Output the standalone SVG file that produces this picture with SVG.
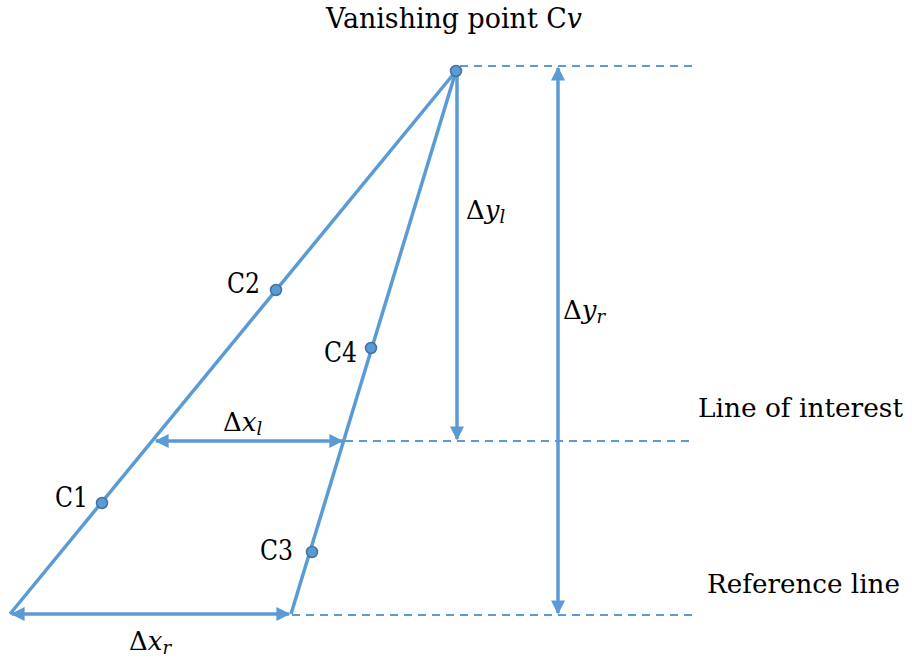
<svg xmlns="http://www.w3.org/2000/svg" width="912" height="662" viewBox="0 0 912 662">
<style>
.ln{stroke:#5B9BD5;stroke-width:3.5;fill:none}
.ds{stroke:#5B9BD5;stroke-width:2;stroke-dasharray:8 6;fill:none}
.dot{fill:#5B9BD5;stroke:#41719C;stroke-width:1.5}
.t{font-family:"DejaVu Serif","Liberation Serif",serif;font-size:27px;fill:#000}
.m{font-family:"DejaVu Serif","Liberation Serif",serif;font-size:26px;fill:#000}
.s{font-size:18px;font-style:italic}
</style>
<defs>
<marker id="ah" viewBox="0 0 10 10" refX="9" refY="5" markerWidth="15" markerHeight="14" orient="auto-start-reverse" markerUnits="userSpaceOnUse">
<path d="M0,0 L10,5 L0,10 z" fill="#5B9BD5"/>
</marker>
</defs>
<rect width="912" height="662" fill="#fff"/>
<g id="connectors">
<line class="ds" x1="460" y1="66" x2="692" y2="66"/>
<line class="ds" x1="345" y1="441" x2="692" y2="441"/>
<line class="ds" x1="292" y1="615" x2="692" y2="615"/>
<line class="ln" x1="456" y1="71" x2="10" y2="614"/>
<line class="ln" x1="456" y1="71" x2="291" y2="614"/>
<line class="ln" x1="457" y1="73" x2="457" y2="439" marker-end="url(#ah)"/>
<line class="ln" x1="558" y1="68" x2="558" y2="613" marker-start="url(#ah)" marker-end="url(#ah)"/>
<line class="ln" x1="156" y1="441" x2="342" y2="441" marker-start="url(#ah)" marker-end="url(#ah)"/>
<line class="ln" x1="12" y1="614" x2="289" y2="614" marker-start="url(#ah)" marker-end="url(#ah)"/>
</g>
<g id="Cv"><circle class="dot" cx="456" cy="71" r="5.5"/><text class="t" x="326" y="28" textLength="256" lengthAdjust="spacingAndGlyphs">Vanishing point C<tspan font-style="italic">v</tspan></text></g>
<g id="C2"><circle class="dot" cx="276" cy="290" r="5.5"/><text class="t" x="227" y="293" textLength="33" lengthAdjust="spacingAndGlyphs">C2</text></g>
<g id="C4"><circle class="dot" cx="371" cy="348" r="5.5"/><text class="t" x="324" y="362" textLength="33" lengthAdjust="spacingAndGlyphs">C4</text></g>
<g id="C1"><circle class="dot" cx="102" cy="503" r="5.5"/><text class="t" x="55" y="507" textLength="33" lengthAdjust="spacingAndGlyphs">C1</text></g>
<g id="C3"><circle class="dot" cx="312" cy="552" r="5.5"/><text class="t" x="260" y="560" textLength="33" lengthAdjust="spacingAndGlyphs">C3</text></g>
<g id="labels">
<text class="m" x="698" y="417" textLength="205" lengthAdjust="spacingAndGlyphs" font-size="27">Line of interest</text>
<text class="m" x="707" y="593" textLength="193" lengthAdjust="spacingAndGlyphs" font-size="27">Reference line</text>
<text class="m" x="466" y="219">Δ<tspan font-style="italic">y</tspan><tspan class="s" dy="4">l</tspan></text>
<text class="m" x="563" y="319">Δ<tspan font-style="italic">y</tspan><tspan class="s" dy="4">r</tspan></text>
<text class="m" x="223" y="431">Δ<tspan font-style="italic">x</tspan><tspan class="s" dy="4">l</tspan></text>
<text class="m" x="129" y="650">Δ<tspan font-style="italic">x</tspan><tspan class="s" dy="4">r</tspan></text>
</g>
</svg>
